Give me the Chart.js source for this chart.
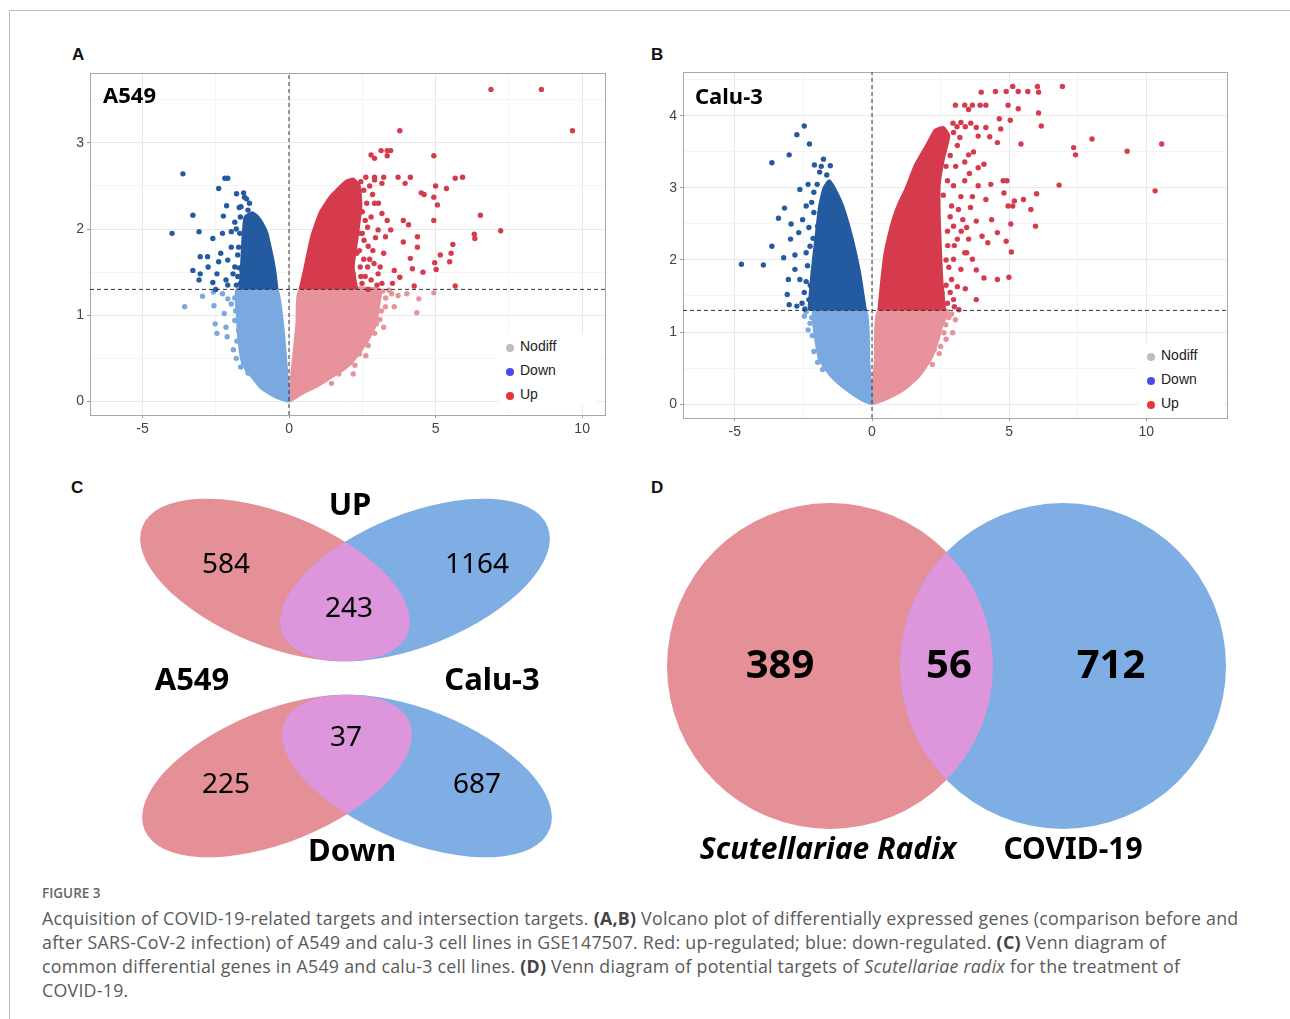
<!DOCTYPE html>
<html>
<head>
<meta charset="utf-8">
<title>Figure 3</title>
<script src="https://cdn.jsdelivr.net/npm/chart.js@4.4.0/dist/chart.umd.min.js"></script>
<style>
  html, body { margin: 0; padding: 0; background: #fff; }
  body { position: relative; width: 1290px; height: 1019px; overflow: hidden; font-family: "Liberation Sans", Arial, sans-serif; }
  .frame-top { position: absolute; left: 9px; top: 10px; width: 1281px; height: 1px; background: #bdbdbd; }
  .frame-left { position: absolute; left: 9px; top: 10px; width: 1px; height: 1009px; background: #bdbdbd; }
  .plabel { position: absolute; font: bold 17px "Liberation Sans", Arial, sans-serif; color: #111; }
  .ptitle { position: absolute; font: bold 22px "Noto Sans", "Open Sans", sans-serif; color: #000; }
  canvas { position: absolute; }
  .legend { position: absolute; background: #fff; font: 14px "Liberation Sans", Arial, sans-serif; color: #222; }
  .legend div { height: 24px; line-height: 24px; white-space: nowrap; }
  .legend span.dot { display: inline-block; width: 8px; height: 8px; border-radius: 50%; margin: 0 6px 0 8px; vertical-align: -1px; }
  .cap-head { position: absolute; left: 42px; top: 884px; font: 600 13.5px "Open Sans", sans-serif; color: #666; }
  .caption { position: absolute; left: 42px; top: 906px; width: 1240px; font: 400 17.8px "Open Sans", sans-serif; letter-spacing: 0.25px; color: #5a5a5a; line-height: 24px; white-space: nowrap; }
  .caption b { font-weight: 700; color: #444; }
</style>
</head>
<body>
<div class="frame-top"></div>
<div class="frame-left"></div>

<div class="plabel" style="left:72px;top:45px">A</div>
<div class="plabel" style="left:651px;top:45px">B</div>
<div class="plabel" style="left:71px;top:478px">C</div>
<div class="plabel" style="left:651px;top:478px">D</div>

<canvas id="chartA" width="580" height="380" style="left:40px;top:60px"></canvas>
<canvas id="chartB" width="607" height="383" style="left:633px;top:60px"></canvas>
<canvas id="chartC" width="580" height="410" style="left:60px;top:470px"></canvas>
<canvas id="chartD" width="620" height="410" style="left:640px;top:470px"></canvas>

<div class="ptitle" style="left:103px;top:79px">A549</div>
<div class="ptitle" style="left:695px;top:80px">Calu-3</div>

<div class="legend" id="legendA" style="left:498px;top:334px;width:99px;height:72px"></div>
<div class="legend" id="legendB" style="left:1139px;top:343px;width:84px;height:72px"></div>

<div class="cap-head">FIGURE 3</div>
<div class="caption">Acquisition of COVID-19-related targets and intersection targets. <b>(A,B)</b> Volcano plot of differentially expressed genes (comparison before and<br>after SARS-CoV-2 infection) of A549 and calu-3 cell lines in GSE147507. Red: up-regulated; blue: down-regulated. <b>(C)</b> Venn diagram of<br>common differential genes in A549 and calu-3 cell lines. <b>(D)</b> Venn diagram of potential targets of <i>Scutellariae radix</i> for the treatment of<br>COVID-19.</div>

<script>
// ---- volcano thresholds ----
const logFcCut = 0;
const pCut = 1.3;

// ---- tick labels ----
const xTickLabels = [-5, 0, 5, 10];
const xMinorTicks = [-2.5, 2.5, 7.5];
const yTickLabelsA = [0, 1, 2, 3];
const yMinorTicksA = [0.5, 1.5, 2.5, 3.5];
const yTickLabelsB = [0, 1, 2, 3, 4];
const yMinorTicksB = [0.5, 1.5, 2.5, 3.5, 4.5];

const legendLabels = ['Nodiff', 'Down', 'Up'];
const legendColors = ['#bdbdbd', '#4b4be6', '#e83434'];

// ---- A549: dense clouds (outline of the packed genes) [log2FC, -log10 p] ----
const a549DownNsArea = [[0,0],[-0.41,1.3],[-1.78,1.3],[-1.76,1.0],[-1.72,0.75],[-1.61,0.48],[-1.45,0.36],[-1.27,0.29],[-0.99,0.17],[-0.65,0.09],[-0.37,0.04],[0,0]];
const a549DownArea = [[-0.41,1.3],[-0.48,1.5],[-0.55,1.64],[-0.65,1.8],[-0.75,1.95],[-0.9,2.06],[-1.06,2.14],[-1.26,2.19],[-1.5,2.14],[-1.57,1.91],[-1.61,1.64],[-1.67,1.3]];
const a549UpArea = [[0.38,1.3],[0.55,1.56],[0.77,1.91],[1.06,2.19],[1.4,2.37],[1.74,2.49],[1.97,2.56],[2.2,2.58],[2.4,2.5],[2.45,2.26],[2.31,1.87],[2.19,1.56],[2.31,1.3]];
const a549UpNsArea = [[0,0],[0.15,0.5],[0.27,0.9],[0.38,1.3],[3.1,1.3],[3.05,1.1],[2.95,0.9],[2.75,0.75],[2.53,0.63],[2.25,0.5],[1.97,0.4],[1.6,0.32],[1.3,0.25],[0.9,0.17],[0.48,0.1],[0.2,0.04],[0,0]];

// ---- A549: scattered genes ----
const a549DownPts = [[-3.62,2.64],[-3.99,1.95],[-3.28,2.16],[-3.07,1.97],[-2.60,1.89],[-3.03,1.68],[-2.78,1.68],[-3.28,1.52],[-3.03,1.48],[-2.76,1.56],[-3.07,1.41],[-2.40,2.47],[-2.19,2.59],[-2.09,2.59],[-2.13,2.27],[-2.24,2.15],[-2.27,1.95],[-1.97,1.97],[-1.85,2.08],[-2.33,1.72],[-2.09,1.64],[-1.85,1.56],[-2.15,1.41],[-1.79,2.41],[-1.52,2.37],[-1.64,2.26],[-1.66,2.14],[-1.42,1.83],[-1.72,1.79],[-1.97,1.79],[-2.40,1.62],[-2.46,1.48],[-1.91,1.48],[-1.60,1.52],[-1.66,1.37],[-2.09,1.35],[-1.55,2.42],[-1.45,2.35],[-1.35,2.30],[-1.80,2.00],[-1.75,1.70],[-1.80,1.35],[-2.50,1.30],[-2.60,1.38],[-1.70,2.25],[-1.68,1.95],[-1.70,1.55],[-1.75,1.45],[-1.40,2.22]];
const a549DownNsPts = [[-3.56,1.10],[-2.95,1.22],[-2.58,1.27],[-2.56,1.11],[-2.52,0.90],[-2.46,0.79],[-2.15,0.86],[-2.11,0.75],[-2.21,1.02],[-1.97,1.13],[-1.72,0.82],[-1.85,0.94],[-1.60,0.71],[-1.48,0.59],[-2.09,1.19],[-2.27,1.25],[-1.72,1.25],[-1.90,0.60],[-1.80,0.50],[-1.65,0.40],[-1.82,1.05],[-1.85,1.20],[-1.78,0.70],[-1.55,0.45],[-1.40,0.33]];
const a549UpPts = [[6.89,3.62],[8.61,3.62],[9.67,3.14],[3.78,3.14],[2.80,2.86],[2.92,2.82],[3.14,2.91],[3.35,2.91],[3.47,2.91],[3.35,2.85],[4.94,2.85],[2.62,2.60],[2.92,2.60],[3.23,2.60],[2.92,2.57],[3.72,2.60],[3.96,2.53],[4.14,2.60],[4.51,2.42],[4.61,2.40],[5.00,2.50],[5.37,2.47],[4.94,2.37],[5.06,2.28],[5.67,2.59],[5.92,2.60],[6.53,2.16],[7.22,1.98],[6.32,1.94],[6.34,1.89],[4.94,2.10],[5.59,1.82],[5.16,1.70],[5.53,1.72],[4.97,1.61],[5.48,1.62],[5.02,1.53],[5.67,1.34],[3.90,2.10],[4.08,2.05],[3.90,1.85],[4.38,1.91],[4.38,1.79],[4.14,1.66],[4.21,1.54],[4.57,1.50],[3.78,1.44],[3.59,1.52],[3.47,1.99],[3.29,1.91],[3.23,1.72],[3.11,1.56],[3.53,1.37],[4.27,1.34],[2.92,2.30],[2.80,2.14],[2.68,2.02],[2.56,1.87],[2.86,1.75],[2.68,1.56],[2.80,1.41],[3.17,2.53],[2.37,2.37],[2.37,2.18],[2.43,1.95],[2.31,1.72],[2.19,1.48],[2.49,1.37],[3.17,2.18],[3.35,2.10],[3.04,1.99],[3.04,1.48],[2.43,1.56],[1.94,1.37],[2.07,1.87],[2.19,2.26],[3.17,1.37],[2.55,2.45],[2.65,2.30],[2.60,2.10],[2.50,1.95],[2.70,1.80],[2.55,1.65],[2.60,1.45],[2.90,1.60],[2.95,1.90],[2.75,2.50],[2.45,2.55],[2.50,2.20],[2.40,1.75],[2.45,1.45],[2.75,1.65],[2.85,2.40],[3.05,2.30],[3.00,1.35],[2.70,1.30]];
const a549UpNsPts = [[4.94,1.26],[4.43,1.19],[4.36,1.03],[4.02,1.25],[3.72,1.23],[3.59,1.10],[3.23,0.86],[2.98,0.90],[2.92,0.79],[2.62,0.53],[2.25,0.42],[2.19,0.32],[1.70,0.32],[3.29,1.10],[2.80,0.98],[2.56,0.71],[1.94,0.51],[1.45,0.21],[3.41,1.29],[3.30,1.20],[3.15,1.05],[3.10,0.95],[2.85,0.85],[2.70,0.65],[2.40,0.55],[2.10,0.45],[1.80,0.38],[3.50,1.25],[3.20,1.28]];

// ---- Calu-3: dense clouds ----
const calu3DownNsArea = [[0,0],[-0.12,0.6],[-0.24,1.3],[-2.12,1.3],[-2.05,0.9],[-1.91,0.62],[-1.49,0.39],[-0.93,0.2],[-0.38,0.06],[0,0]];
const calu3DownArea = [[-0.24,1.3],[-0.45,1.82],[-0.72,2.29],[-1.07,2.75],[-1.35,2.98],[-1.56,3.1],[-1.75,3.0],[-1.91,2.75],[-2.05,2.29],[-2.19,1.82],[-2.3,1.3]];
const calu3UpArea = [[0.25,1.3],[0.35,1.7],[0.46,2.06],[0.62,2.35],[0.81,2.61],[1.0,2.8],[1.23,2.98],[1.57,3.31],[1.99,3.59],[2.3,3.8],[2.6,3.84],[2.8,3.72],[2.6,3.4],[2.45,3.05],[2.45,2.6],[2.5,2.1],[2.55,1.7],[2.65,1.3]];
const calu3UpNsArea = [[0,0],[0.12,0.6],[0.25,1.3],[2.76,1.3],[2.55,1.1],[2.41,0.9],[2.13,0.62],[1.71,0.39],[1.16,0.2],[0.46,0.06],[0,0]];

// ---- Calu-3: scattered genes ----
const calu3DownPts = [[-2.47,3.86],[-2.74,3.74],[-2.28,3.61],[-3.02,3.46],[-3.65,3.35],[-4.76,1.94],[-3.96,1.93],[-3.65,2.19],[-3.41,2.58],[-3.19,2.72],[-2.95,2.50],[-2.97,2.29],[-3.22,2.03],[-2.81,2.07],[-3.05,1.73],[-2.81,1.87],[-3.09,1.52],[-3.02,1.38],[-2.63,1.73],[-2.67,2.38],[-2.53,2.56],[-2.63,2.98],[-2.33,3.05],[-2.40,2.75],[-2.10,3.32],[-1.77,3.40],[-1.91,3.22],[-2.12,2.94],[-2.26,2.19],[-2.35,1.92],[-2.47,1.55],[-2.74,1.36],[-2.12,2.66],[-1.98,2.47],[-1.52,3.31],[-1.65,3.18],[-2.45,1.32],[-2.30,2.45],[-2.40,2.10],[-2.40,1.70],[-2.30,1.45],[-2.55,1.40],[-2.20,2.80],[-2.00,3.05],[-1.85,3.30],[-2.15,2.30],[-2.25,1.65]];
const calu3DownNsPts = [[-2.47,1.22],[-2.33,1.03],[-2.12,0.73],[-1.98,0.58],[-2.26,1.12],[-2.40,1.28],[-2.20,1.20],[-2.18,0.95],[-1.80,0.48]];
const calu3UpPts = [[6.94,4.41],[6.03,4.41],[5.13,4.41],[6.07,4.33],[5.68,4.34],[5.33,4.34],[4.89,4.34],[4.50,4.34],[3.98,4.33],[4.96,4.15],[5.33,4.10],[6.07,4.04],[6.17,3.86],[3.04,4.15],[3.38,4.15],[3.66,4.15],[3.94,4.15],[4.15,4.15],[3.52,4.09],[4.64,3.96],[5.04,3.94],[4.69,3.82],[4.15,3.84],[3.80,3.84],[3.87,3.72],[4.29,3.71],[4.57,3.63],[5.43,3.61],[8.02,3.68],[7.35,3.56],[7.42,3.46],[9.30,3.51],[10.56,3.61],[10.32,2.96],[6.82,3.04],[6.00,2.92],[5.96,2.47],[5.79,2.70],[5.52,2.84],[5.19,2.82],[4.96,2.75],[5.06,2.50],[5.13,2.75],[4.78,3.10],[4.92,3.10],[4.81,2.93],[4.89,2.26],[5.08,2.11],[4.99,1.76],[4.57,1.73],[4.08,1.75],[3.80,1.86],[3.80,1.45],[3.45,2.10],[4.01,2.33],[4.22,2.24],[4.57,2.38],[4.36,2.56],[3.80,2.54],[3.59,2.73],[4.15,2.84],[3.87,3.03],[4.33,3.05],[4.08,3.33],[3.87,3.28],[3.52,3.46],[3.38,3.10],[3.24,2.88],[3.31,2.56],[3.11,2.29],[2.97,2.01],[3.24,1.87],[3.11,1.63],[3.17,1.31],[2.97,1.45],[3.52,2.29],[3.38,2.10],[3.66,2.01],[3.24,3.91],[2.97,3.77],[3.11,3.59],[3.38,3.36],[2.97,3.03],[2.90,2.75],[2.97,2.47],[2.90,1.73],[2.55,1.54],[3.66,2.88],[3.45,2.45],[2.76,2.20],[2.60,2.90],[2.70,3.30],[2.75,2.40],[2.80,1.90],[2.75,1.40],[2.85,3.45],[2.75,3.10],[2.85,2.60],[2.70,2.00],[2.85,1.55],[3.00,1.35],[2.95,3.90],[3.10,3.85],[3.40,3.85],[3.60,3.90],[3.20,3.70],[3.05,3.30],[3.15,2.70],[3.00,2.20],[2.70,1.65],[3.25,2.40],[3.40,1.60],[3.55,3.20],[3.70,3.50]];
const calu3UpNsPts = [[2.94,0.99],[3.04,1.17],[2.69,1.10],[2.62,0.99],[2.27,0.76],[2.90,1.25],[2.50,0.80],[2.80,1.20],[2.70,0.90],[2.45,0.70],[2.20,0.55]];

// ---- Venn counts ----
const upSetNames = ['A549', 'Calu-3'];
const upCounts = [584, 243, 1164];      // A549 only, both, Calu-3 only
const downCounts = [225, 37, 687];
const vennCGroupTitles = ['UP', 'Down'];
const dSetNames = ['Scutellariae Radix', 'COVID-19'];
const dCounts = [389, 56, 712];

// ---- colours ----
const colDown = '#245aa0', colDownNs = '#7aa9e1', colUp = '#d63b4d', colUpNs = '#e8929b';
const vennPink = '#e58f97', vennBlue = '#7eaee3', vennMix = '#dd95dc';

const toXY = arr => arr.map(p => ({ x: p[0], y: p[1] }));

const frameBorder = {
  id: 'frameBorder',
  beforeDatasetsDraw(chart) {
    const { ctx, chartArea: a } = chart;
    ctx.save();
    ctx.strokeStyle = '#a8a8a8';
    ctx.lineWidth = 1;
    ctx.strokeRect(Math.round(a.left) + 0.5, Math.round(a.top) + 0.5, Math.round(a.right - a.left), Math.round(a.bottom - a.top));
    ctx.restore();
  }
};

function volcano(id, d, ax) {
  const area = (pts, c) => ({ data: toXY(pts), showLine: true, fill: 'shape', backgroundColor: c, borderColor: c, borderWidth: 3, pointRadius: 0, tension: 0.15, order: 3 });
  const dots = (pts, c) => ({ data: toXY(pts), backgroundColor: c, borderWidth: 0, pointRadius: 2.7, order: 2 });
  const dash = pts => ({ data: pts, showLine: true, borderColor: '#333', borderWidth: 1, borderDash: [4, 3], pointRadius: 0, order: 1 });
  const xMajors = xTickLabels, yMajors = ax.yLabels;
  const gridCol = majors => c => majors.includes(c.tick.value) ? '#e9e9e9' : '#f4f4f4';
  return new Chart(document.getElementById(id), {
    type: 'scatter',
    data: {
      datasets: [
        dash([{ x: logFcCut, y: ax.yMin }, { x: logFcCut, y: ax.yMax }]),
        dash([{ x: ax.xMin, y: pCut }, { x: ax.xMax, y: pCut }]),
        dots(d.downPts, colDown), dots(d.downNsPts, colDownNs),
        dots(d.upPts, colUp), dots(d.upNsPts, colUpNs),
        area(d.downArea, colDown), area(d.downNsArea, colDownNs),
        area(d.upArea, colUp), area(d.upNsArea, colUpNs)
      ]
    },
    options: {
      responsive: false, animation: false, events: [],
      layout: { padding: { top: ax.padTop, right: ax.padRight, left: 0, bottom: 0 } },
      plugins: { legend: { display: false }, tooltip: { enabled: false } },
      scales: {
        x: {
          type: 'linear', min: ax.xMin, max: ax.xMax,
          afterBuildTicks: s => { s.ticks = xMajors.concat(xMinorTicks).sort((a, b) => a - b).map(v => ({ value: v })); },
          afterFit: s => { s.height = ax.xAxisH; },
          grid: { color: gridCol(xMajors), tickLength: 3, tickColor: c => xMajors.includes(c.tick.value) ? '#999' : 'rgba(0,0,0,0)' },
          border: { display: false },
          ticks: { autoSkip: false, maxRotation: 0, padding: 3, color: '#444', font: { family: 'Liberation Sans', size: 14 },
                   callback: v => xMajors.includes(v) ? String(v) : '' }
        },
        y: {
          type: 'linear', min: ax.yMin, max: ax.yMax,
          afterBuildTicks: s => { s.ticks = yMajors.concat(ax.yMinor).sort((a, b) => a - b).map(v => ({ value: v })); },
          afterFit: s => { s.width = ax.yAxisW; },
          grid: { color: gridCol(yMajors), tickLength: 3, tickColor: c => yMajors.includes(c.tick.value) ? '#999' : 'rgba(0,0,0,0)' },
          border: { display: false },
          ticks: { autoSkip: false, padding: 3, color: '#444', font: { family: 'Liberation Sans', size: 14 },
                   callback: v => yMajors.includes(v) ? String(v) : '' }
        }
      }
    },
    plugins: [frameBorder]
  });
}

volcano('chartA', {
  downArea: a549DownArea, downNsArea: a549DownNsArea, upArea: a549UpArea, upNsArea: a549UpNsArea,
  downPts: a549DownPts, downNsPts: a549DownNsPts, upPts: a549UpPts, upNsPts: a549UpNsPts
}, { xMin: -6.79, xMax: 10.78, yMin: -0.157, yMax: 3.81, yLabels: yTickLabelsA, yMinor: yMinorTicksA,
     padTop: 13, padRight: 15, xAxisH: 25, yAxisW: 50 });

volcano('chartB', {
  downArea: calu3DownArea, downNsArea: calu3DownNsArea, upArea: calu3UpArea, upNsArea: calu3UpNsArea,
  downPts: calu3DownPts, downNsPts: calu3DownNsPts, upPts: calu3UpPts, upNsPts: calu3UpNsPts
}, { xMin: -6.89, xMax: 12.94, yMin: -0.194, yMax: 4.61, yLabels: yTickLabelsB, yMinor: yMinorTicksB,
     padTop: 12, padRight: 13, xAxisH: 25, yAxisW: 50 });

['legendA', 'legendB'].forEach(id => {
  document.getElementById(id).innerHTML = legendLabels.map((t, i) =>
    '<div><span class="dot" style="background:' + legendColors[i] + '"></span>' + t + '</div>').join('');
});

// ---- Venn diagrams: layout in panel units (x right, y down) ----
function venn(id, w, h, shapes, texts) {
  const vennDraw = {
    id: 'vennDraw',
    beforeDatasetsDraw(chart) {
      const { ctx, scales: { x, y } } = chart;
      const kx = x.getPixelForValue(1) - x.getPixelForValue(0);
      const ky = y.getPixelForValue(1) - y.getPixelForValue(0);
      const path = e => { ctx.beginPath(); ctx.ellipse(x.getPixelForValue(e.cx), y.getPixelForValue(e.cy), e.rx * kx, e.ry * Math.abs(ky), e.rot * Math.PI / 180, 0, Math.PI * 2); };
      shapes.forEach(pair => {
        ctx.save();
        path(pair[0]); ctx.fillStyle = vennPink; ctx.fill();
        path(pair[1]); ctx.fillStyle = vennBlue; ctx.fill();
        path(pair[0]); ctx.clip();
        path(pair[1]); ctx.fillStyle = vennMix; ctx.fill();
        ctx.restore();
      });
    },
    afterDatasetsDraw(chart) {
      const { ctx, scales: { x, y } } = chart;
      ctx.save();
      ctx.fillStyle = '#000';
      ctx.textAlign = 'center';
      ctx.textBaseline = 'middle';
      texts.forEach(t => {
        ctx.font = t.font;
        ctx.fillText(String(t.text), x.getPixelForValue(t.x), y.getPixelForValue(t.y));
      });
      ctx.restore();
    }
  };
  return new Chart(document.getElementById(id), {
    type: 'scatter',
    data: { datasets: [{ data: texts.map(t => ({ x: t.x, y: t.y })), pointRadius: 0 }] },
    options: {
      responsive: false, animation: false, events: [],
      layout: { padding: 0 },
      plugins: { legend: { display: false }, tooltip: { enabled: false } },
      scales: {
        x: { type: 'linear', min: 0, max: w, display: false },
        y: { type: 'linear', min: 0, max: h, reverse: true, display: false }
      }
    },
    plugins: [vennDraw]
  });
}

const numFont = '28px "Noto Sans", "Open Sans", sans-serif';
const boldFont = 'bold 31px "Noto Sans", "Open Sans", sans-serif';
venn('chartC', 580, 410, [
  [{ cx: 215, cy: 110, rx: 143, ry: 66, rot: 22 }, { cx: 355, cy: 110, rx: 143, ry: 66, rot: -22 }],
  [{ cx: 217, cy: 306, rx: 143, ry: 66, rot: -22 }, { cx: 357, cy: 306, rx: 143, ry: 66, rot: 22 }]
], [
  { text: vennCGroupTitles[0], x: 290, y: 36, font: boldFont },
  { text: upCounts[0], x: 166, y: 95, font: numFont },
  { text: upCounts[1], x: 289, y: 139, font: numFont },
  { text: upCounts[2], x: 417, y: 95, font: numFont },
  { text: upSetNames[0], x: 132, y: 211, font: boldFont },
  { text: upSetNames[1], x: 432, y: 211, font: boldFont },
  { text: downCounts[1], x: 286, y: 268, font: numFont },
  { text: downCounts[0], x: 166, y: 315, font: numFont },
  { text: downCounts[2], x: 417, y: 315, font: numFont },
  { text: vennCGroupTitles[1], x: 292, y: 382, font: boldFont }
]);

const dNumFont = 'bold 40px "Noto Sans", "Open Sans", sans-serif';
venn('chartD', 620, 410, [
  [{ cx: 190, cy: 196, rx: 163, ry: 163, rot: 0 }, { cx: 423, cy: 196, rx: 163, ry: 163, rot: 0 }]
], [
  { text: dCounts[0], x: 140, y: 197, font: dNumFont },
  { text: dCounts[1], x: 309, y: 197, font: dNumFont },
  { text: dCounts[2], x: 471, y: 197, font: dNumFont },
  { text: dSetNames[0], x: 188, y: 380, font: 'italic bold 30px "Noto Sans", "Open Sans", sans-serif' },
  { text: dSetNames[1], x: 433, y: 380, font: 'bold 30px "Noto Sans", "Open Sans", sans-serif' }
]);
</script>
</body>
</html>
